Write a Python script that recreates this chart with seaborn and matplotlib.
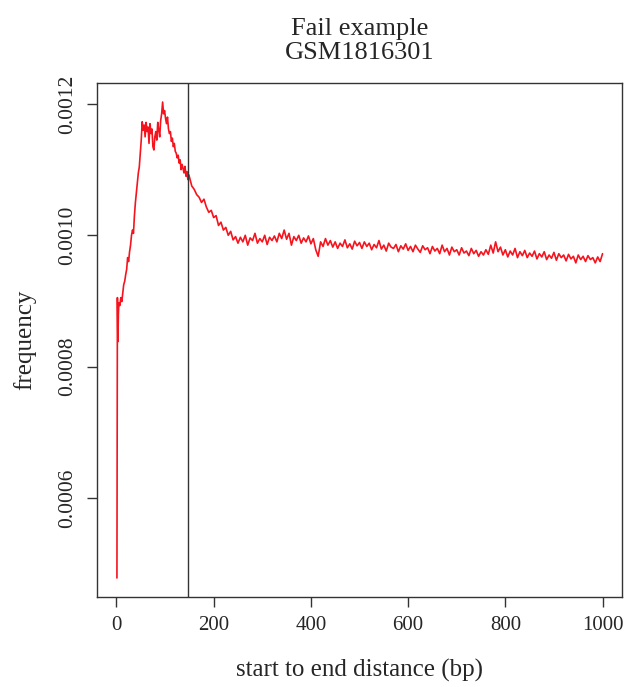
import numpy as np
import pandas as pd
import matplotlib
matplotlib.use("Agg")
import matplotlib.pyplot as plt
import seaborn as sns

# ---- data (frequency x 1e-6) ----
bp_early = [1, 2, 3, 4, 5, 7, 9, 11, 13, 15, 17, 19, 21, 23, 25, 27, 29, 31, 33, 35,
            37, 39, 41, 43, 45, 47, 49, 51, 53, 55, 57, 59, 61, 63, 65, 67, 69, 71, 73, 75,
            77, 79, 81, 83, 85, 87, 89, 91, 93, 95, 97, 99, 101, 103, 105, 107, 109, 111, 113, 115,
            117, 119, 121, 123, 125, 127, 129, 131, 133, 135, 137, 139, 141, 143, 145, 147, 149]
freq_early = [478, 905, 838, 880, 897, 893, 905, 899, 912, 925, 930, 940, 948, 966, 960, 975, 985, 1000, 1008, 1003,
              1030, 1050, 1065, 1080, 1095, 1104, 1125, 1145, 1173, 1160, 1168, 1150, 1172, 1158, 1165, 1140, 1170, 1155, 1162, 1135,
              1130, 1150, 1158, 1145, 1172, 1160, 1150, 1175, 1185, 1203, 1185, 1190, 1178, 1170, 1180, 1162, 1155, 1158, 1143, 1148,
              1135, 1140, 1128, 1125, 1118, 1122, 1110, 1115, 1100, 1108, 1102, 1095, 1105, 1090, 1097, 1085, 1092]

bp_late = list(range(155, 1001, 5))
freq_late = [1075, 1070, 1062, 1058, 1050, 1055, 1043, 1035, 1038, 1027,
             1030, 1015, 1020, 1008, 1012, 1000, 1006, 993, 998, 988,
             997, 990, 1000, 985, 996, 992, 1003, 988, 995, 990,
             1000, 986, 997, 992, 999, 990, 1003, 995, 1008, 994,
             1003, 985, 998, 992, 1000, 988, 996, 990, 999, 987,
             995, 978, 968, 990, 983, 995, 985, 992, 982, 990,
             980, 988, 983, 993, 981, 987, 979, 991, 984, 989,
             980, 990, 983, 988, 978, 986, 981, 992, 979, 985,
             976, 988, 982, 980, 986, 975, 984, 979, 987, 977,
             983, 975, 985, 979, 974, 984, 978, 981, 972, 983,
             976, 980, 972, 985, 975, 980, 970, 982, 975, 978,
             970, 981, 973, 976, 969, 980, 972, 977, 968, 975,
             970, 978, 971, 985, 973, 990, 975, 982, 970, 978,
             967, 976, 970, 980, 966, 975, 969, 977, 966, 973,
             968, 976, 964, 972, 967, 975, 963, 970, 965, 974,
             962, 972, 966, 970, 961, 971, 964, 968, 958, 970,
             963, 968, 960, 969, 963, 966, 958, 967, 960, 972]

vline_bp = 147
title_text = "Fail example\nGSM1816301"
xlabel_text = "start to end distance (bp)"
ylabel_text = "frequency"
xticks = [0, 200, 400, 600, 800, 1000]
yticks = [0.0006, 0.0008, 0.0010, 0.0012]
ytick_labels = ["0.0006", "0.0008", "0.0010", "0.0012"]

df = pd.DataFrame({
    "distance": bp_early + bp_late,
    "frequency": [v * 1e-6 for v in freq_early + freq_late],
})

sns.set_style("white")
plt.rcParams["font.family"] = ["Liberation Serif", "DejaVu Serif"]

fig = plt.figure(figsize=(6.29, 6.87), dpi=100)
ax = fig.add_axes([97 / 629, 1 - 597 / 687, (622 - 97) / 629, (597 - 83) / 687])

sns.lineplot(data=df, x="distance", y="frequency", color="#f5141e", linewidth=1.2, ax=ax)
ax.axvline(vline_bp, color="#333333", linewidth=1.0)

xmin, xmax = 0, 1000
ymin, ymax = df["frequency"].min(), df["frequency"].max()
ax.set_xlim(xmin - 0.04 * (xmax - xmin), xmax + 0.04 * (xmax - xmin))
ax.set_ylim(ymin - 0.04 * (ymax - ymin), ymax + 0.04 * (ymax - ymin))

ax.set_xticks(xticks)
ax.set_xticklabels([str(t) for t in xticks], fontsize=15)
ax.set_yticks(yticks)
ax.set_yticklabels(ytick_labels, fontsize=15.5, rotation=90, va="center")
ax.tick_params(axis="both", direction="out", length=7, width=1, color="#333333",
               pad=7, left=True, bottom=True)

for s in ax.spines.values():
    s.set_color("#333333")
    s.set_linewidth(1.0)

ax.set_xlabel(xlabel_text, fontsize=18)
ax.set_ylabel(ylabel_text, fontsize=18)
ax.xaxis.set_label_coords(0.5, (597 - 670) / 514)
ax.xaxis.label.set_va("center")
ax.yaxis.set_label_coords((25 - 97) / 525, 0.5)
ax.yaxis.label.set_va("center")

ax.set_title(title_text, fontsize=19, pad=17, linespacing=1.15)

fig.savefig("out.png", dpi=100)
